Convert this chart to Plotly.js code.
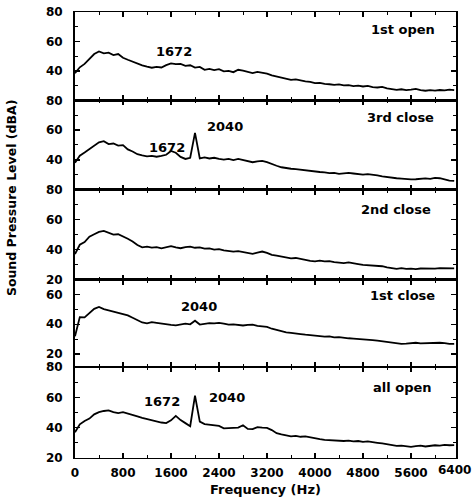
<!DOCTYPE html>
<html>
<head>
<meta charset="utf-8">
<script src="https://cdn.plot.ly/plotly-3.0.1.min.js"></script>
<style>html,body{margin:0;padding:0;background:#fff;}#chart{width:474px;height:501px;}</style>
</head>
<body>
<div id="chart"></div>
<script>
// Frequency grid (Hz)
const freq = [0,80,160,240,320,400,480,560,640,720,800,880,960,1040,1120,1200,1280,1360,1440,1520,
  1600,1680,1760,1840,1920,2000,2080,2160,2240,2320,2400,2480,2560,2640,2720,2800,2880,2960,3040,3120,
  3200,3280,3360,3440,3520,3600,3680,3760,3840,3920,4000,4080,4160,4240,4320,4400,4480,4560,4640,4720,
  4800,4880,4960,5040,5120,5200,5280,5360,5440,5520,5600,5680,5760,5840,5920,6000,6080,6160,6240,6320];

// Sound pressure level (dBA), panels top to bottom
const open1st = [38.5,42.5,44.8,48.0,51.5,53.2,52.0,52.4,50.8,51.5,49.0,47.6,46.2,45.3,43.8,42.9,42.2,42.8,42.4,44.0,
  45.2,44.6,44.8,43.5,43.9,42.3,42.8,40.8,41.4,40.6,41.2,39.8,40.1,39.2,40.8,40.2,39.5,38.6,39.4,38.9,
  38.2,37.0,36.2,35.4,34.6,34.0,34.3,33.5,33.0,32.6,31.8,32.0,31.2,31.0,30.6,30.9,30.2,30.4,29.8,30.1,
  29.5,29.9,29.0,28.8,29.2,28.2,27.8,27.2,27.6,27.0,27.4,27.9,27.1,26.6,27.0,26.7,27.1,26.8,27.3,27.0];
const close3rd = [38.0,42.8,44.9,47.2,50.0,51.8,52.6,50.6,51.0,49.6,49.9,47.0,45.6,43.8,43.0,42.4,42.7,42.1,42.6,43.4,
  46.0,44.8,42.0,40.6,41.4,58.2,41.0,41.6,40.9,41.4,40.6,40.2,40.7,39.8,40.6,39.9,39.0,38.4,39.0,39.3,
  38.4,37.0,36.0,35.0,34.4,34.0,33.8,33.3,33.0,32.5,32.2,31.8,31.5,31.0,31.2,30.6,30.9,31.2,30.8,30.3,
  30.0,30.4,30.2,29.6,28.9,28.3,27.9,27.6,27.4,27.0,26.8,26.9,27.3,27.5,27.2,27.8,27.6,26.8,26.0,25.8];
const close2nd = [37.0,43.2,45.0,48.6,50.2,51.8,52.4,51.0,49.9,50.2,48.8,47.2,45.4,43.0,41.5,42.0,41.3,41.6,40.8,41.6,
  42.3,41.4,40.9,41.6,42.0,41.2,41.5,40.6,40.8,40.0,40.3,39.4,39.0,38.6,38.9,38.2,37.6,37.2,38.0,38.7,
  37.8,36.5,35.9,35.2,34.8,34.2,34.4,33.6,33.0,32.4,32.2,32.6,32.1,32.3,31.6,31.2,31.0,31.4,30.6,30.3,
  29.8,29.6,29.2,29.4,28.9,28.2,27.5,27.2,27.6,27.1,27.3,27.0,27.4,27.2,27.0,27.3,27.6,27.4,27.7,27.5];
const close1st = [32.0,44.8,44.6,47.5,50.4,51.6,50.2,49.4,48.6,48.0,46.8,46.0,44.4,43.0,41.2,40.6,41.4,41.0,40.4,40.2,
  39.6,39.3,39.8,40.4,40.0,42.4,39.8,40.4,40.8,40.6,41.0,40.5,39.8,40.0,39.4,39.2,39.6,39.8,39.0,38.6,
  38.2,37.0,36.2,35.2,34.6,34.2,33.6,33.4,33.0,32.6,32.4,32.0,31.7,31.9,31.2,31.4,30.9,30.6,30.4,30.2,
  29.8,30.0,29.4,29.0,28.6,27.8,27.4,27.1,26.8,27.0,27.3,27.6,27.2,27.4,27.1,27.3,27.6,27.3,26.8,26.9];
const allOpen = [37.0,42.2,44.4,46.0,48.8,50.2,51.0,51.4,50.2,49.6,50.2,49.4,48.2,47.4,46.4,45.6,44.6,44.2,43.4,43.0,
  44.8,47.8,45.0,43.0,41.0,61.1,44.0,42.4,42.0,41.6,41.2,39.6,39.8,40.2,40.0,41.6,39.2,39.0,40.4,40.0,
  39.8,38.4,36.4,35.6,35.0,34.3,34.6,34.0,34.3,33.6,32.8,32.4,32.0,31.8,31.4,31.6,31.2,31.5,31.0,31.2,
  30.7,30.9,30.2,30.0,29.6,29.2,28.6,28.0,28.2,27.6,27.4,27.8,28.2,27.6,28.0,28.4,28.2,28.6,28.4,28.5];

const panelNames = ["1st open", "3rd close", "2nd close", "1st close", "all open"];
const series = [open1st, close3rd, close2nd, close1st, allOpen];
const xTickVals = [0, 800, 1600, 2400, 3200, 4000, 4800, 5600];
const xTickText = ["0", "800", "1600", "2400", "3200", "4000", "4800", "5600"];
const lastTick = "6400";

const FONT = {family: "DejaVu Sans, Liberation Sans, Arial, sans-serif", size: 12, color: "#000", weight: "bold"};
const AFONT = {family: "DejaVu Sans, Liberation Sans, Arial, sans-serif", size: 13, color: "#000", weight: "bold"};
const TFONT = {family: "DejaVu Sans, Liberation Sans, Arial, sans-serif", size: 12.5, color: "#000", weight: "bold"};

const domains = [[0.8016, 1], [0.602, 0.8016], [0.400, 0.602], [0.204, 0.400], [0, 0.204]];
const ranges = [[20, 80], [20, 80], [20, 80], [11.3, 70], [20, 80]];
const yTicks = [
  {vals: [20, 40, 60, 80], text: ["", "40", "60", "80"]},
  {vals: [20, 40, 60, 80], text: ["", "40", "60", "80"]},
  {vals: [20, 40, 60, 80], text: ["20", "40", "60", "80"]},
  {vals: [20, 40, 60], text: ["20", "40", "60"]},
  {vals: [20, 40, 60, 80], text: ["20", "40", "60", "80"]}
];

const traces = series.map((s, i) => ({
  x: freq, y: s, type: "scatter", mode: "lines",
  xaxis: i === 0 ? "x" : "x" + (i + 1),
  yaxis: i === 0 ? "y" : "y" + (i + 1),
  line: {color: "#000", width: 1.8},
  hoverinfo: "skip", showlegend: false
}));

const layout = {
  width: 474, height: 501,
  margin: {l: 75, r: 18, t: 12, b: 43},
  paper_bgcolor: "#fff", plot_bgcolor: "#fff",
  font: FONT,
  showlegend: false,
  annotations: []
};

for (let i = 0; i < 5; i++) {
  const xk = i === 0 ? "xaxis" : "xaxis" + (i + 1);
  const yk = i === 0 ? "yaxis" : "yaxis" + (i + 1);
  const yid = i === 0 ? "y" : "y" + (i + 1);
  layout[xk] = {
    anchor: yid, range: [0, 6350], domain: [0, 1],
    matches: i === 0 ? undefined : "x",
    showline: true, linecolor: "#000", linewidth: 1.2, mirror: "ticks",
    ticks: "inside", ticklen: 5, tickwidth: 1.5, tickcolor: "#000",
    tickmode: "array", tickvals: xTickVals, ticktext: xTickText,
    minor: {tickmode: "linear", tick0: 0, dtick: 400, ticks: "inside", ticklen: 3, tickwidth: 1, tickcolor: "#000"},
    showticklabels: i === 4, tickfont: FONT, ticklabelstandoff: 3,
    showgrid: false, zeroline: false, fixedrange: true
  };
  layout[yk] = {
    anchor: i === 0 ? "x" : "x" + (i + 1),
    domain: domains[i], range: ranges[i],
    showline: true, linecolor: "#000", linewidth: 2, mirror: "ticks",
    ticks: "inside", ticklen: 5, tickwidth: 1.5, tickcolor: "#000",
    tickmode: "array", tickvals: yTicks[i].vals, ticktext: yTicks[i].text,
    minor: {tickmode: "linear", tick0: 0, dtick: 10, ticks: "inside", ticklen: 3, tickwidth: 1, tickcolor: "#000"},
    tickfont: FONT, ticklabelstandoff: 8,
    showgrid: false, zeroline: false, fixedrange: true
  };
}

// Panel labels (right aligned)
const labelPos = [[6033, 67.8], [6017, 68.2], [5967, 66.9], [6033, 59.6], [5983, 66.8]];
panelNames.forEach((name, i) => {
  layout.annotations.push({
    text: name, x: labelPos[i][0], y: labelPos[i][1],
    xref: i === 0 ? "x" : "x" + (i + 1), yref: i === 0 ? "y" : "y" + (i + 1),
    xanchor: "right", yanchor: "middle", showarrow: false, font: AFONT
  });
});

// Peak frequency labels
const peakLabels = [
  {t: "1672", p: 0, x: 1652, y: 52.9},
  {t: "1672", p: 1, x: 1535, y: 48.6},
  {t: "2040", p: 1, x: 2507, y: 62.8},
  {t: "2040", p: 3, x: 2061, y: 52.2},
  {t: "1672", p: 4, x: 1452, y: 57.1},
  {t: "2040", p: 4, x: 2537, y: 59.6}
];
peakLabels.forEach(a => {
  layout.annotations.push({
    text: a.t, x: a.x, y: a.y,
    xref: a.p === 0 ? "x" : "x" + (a.p + 1), yref: a.p === 0 ? "y" : "y" + (a.p + 1),
    xanchor: "center", yanchor: "middle", showarrow: false, font: AFONT
  });
});

// Last x tick label (axis ends just before 6400)
layout.annotations.push({
  text: lastTick, xref: "paper", yref: "paper", x: 1.0446, y: 0,
  xanchor: "right", yanchor: "top", yshift: -3, showarrow: false, font: FONT
});

// Axis titles
layout.annotations.push({
  text: "Frequency (Hz)", xref: "paper", yref: "paper", x: 0.5, y: -0.0717,
  xanchor: "center", yanchor: "middle", showarrow: false, font: AFONT
});
layout.annotations.push({
  text: "Sound Pressure Level (dBA)", xref: "paper", yref: "paper", x: -0.165, y: 0.583,
  xanchor: "center", yanchor: "middle", textangle: -90, showarrow: false, font: TFONT
});

Plotly.newPlot("chart", traces, layout, {staticPlot: true, displayModeBar: false});
</script>
</body>
</html>
